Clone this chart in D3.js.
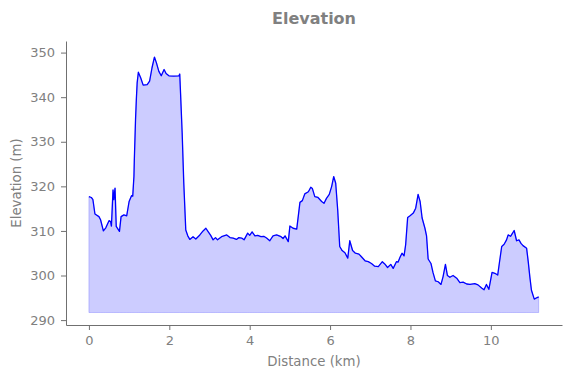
<!DOCTYPE html>
<html>
<head>
<meta charset="utf-8">
<script src="https://cdn.jsdelivr.net/npm/d3@7"></script>
<style>
  body { margin: 0; background: #fff; }
  svg { font-family: "DejaVu Sans", sans-serif; }
</style>
</head>
<body>
<svg id="canvas"></svg>
<script>
const distanceKm = [
  0.0, 0.06, 0.1, 0.15, 0.25, 0.29, 0.36, 0.42, 0.5, 0.54, 0.56, 0.6, 0.62,
  0.65, 0.68, 0.76, 0.8, 0.87, 0.94, 1.0, 1.06, 1.09, 1.12, 1.13, 1.16, 1.18,
  1.2, 1.23, 1.29, 1.35, 1.45, 1.51, 1.57, 1.63, 1.68, 1.74, 1.8, 1.87, 1.92,
  1.99, 2.11, 2.24, 2.26, 2.28, 2.32, 2.36, 2.41, 2.46, 2.51, 2.59, 2.66, 2.76,
  2.84, 2.91, 2.97, 3.03, 3.09, 3.15, 3.2, 3.3, 3.43, 3.51, 3.59, 3.67, 3.73,
  3.8, 3.86, 3.95, 4.0, 4.06, 4.13, 4.2, 4.28, 4.35, 4.42, 4.5, 4.58, 4.67,
  4.78, 4.83, 4.88, 4.96, 5.0, 5.08, 5.17, 5.25, 5.31, 5.37, 5.46, 5.52, 5.56,
  5.62, 5.7, 5.79, 5.85, 5.91, 5.98, 6.04, 6.09, 6.14, 6.19, 6.24, 6.3, 6.37,
  6.44, 6.49, 6.56, 6.63, 6.72, 6.78, 6.87, 6.95, 7.03, 7.11, 7.2, 7.3, 7.36,
  7.43, 7.51, 7.57, 7.65, 7.69, 7.74, 7.79, 7.84, 7.88, 7.93, 7.99, 8.07, 8.13,
  8.19, 8.24, 8.29, 8.36, 8.4, 8.44, 8.51, 8.56, 8.62, 8.69, 8.76, 8.81, 8.87,
  8.92, 8.98, 9.06, 9.15, 9.23, 9.31, 9.4, 9.48, 9.6, 9.68, 9.77, 9.83, 9.89,
  9.95, 10.03, 10.1, 10.17, 10.21, 10.27, 10.33, 10.39, 10.43, 10.49, 10.54,
  10.58, 10.64, 10.7, 10.75, 10.8, 10.89, 10.93, 10.97, 11.01, 11.08, 11.14,
  11.19,
];
const elevationM = [
  317.7, 317.5, 317.0, 313.8, 313.2, 312.5, 310.0, 310.7, 312.3, 312.1, 311.1,
  319.2, 317.0, 319.6, 311.0, 309.9, 313.2, 313.6, 313.4, 316.6, 317.9, 317.8,
  322.2, 326.0, 335.0, 339.5, 343.2, 345.6, 344.3, 342.7, 342.8, 343.6, 346.6,
  349.0, 347.7, 345.8, 344.8, 346.2, 345.3, 344.8, 344.7, 344.8, 345.2, 340.9,
  332.0, 320.8, 310.2, 308.9, 308.1, 308.7, 308.2, 309.1, 310.0, 310.6, 309.8,
  309.0, 308.0, 308.5, 308.0, 308.7, 309.1, 308.5, 308.4, 308.1, 308.5, 308.4,
  308.0, 309.5, 309.0, 309.8, 308.9, 309.0, 308.7, 308.8, 308.4, 307.8, 308.9,
  309.1, 308.7, 308.3, 308.9, 307.6, 311.1, 310.6, 310.4, 316.4, 316.8, 318.3,
  318.8, 319.8, 319.5, 317.7, 317.5, 316.6, 316.2, 317.3, 318.2, 320.0, 322.2,
  320.7, 314.7, 306.5, 305.6, 305.1, 303.9, 307.8, 305.6, 305.0, 304.8, 304.2,
  303.3, 303.1, 302.7, 302.1, 302.0, 303.1, 302.6, 301.8, 302.5, 301.6, 303.1,
  303.0, 304.1, 305.0, 304.4, 306.9, 313.0, 313.4, 314.0, 315.1, 318.2, 316.6,
  312.9, 310.6, 308.9, 303.7, 302.7, 300.7, 298.8, 298.6, 298.0, 299.7, 302.5,
  300.0, 299.6, 300.0, 299.4, 298.4, 298.5, 298.1, 298.0, 298.2, 297.9, 297.2,
  296.8, 298.0, 296.9, 300.7, 300.5, 300.1, 302.7, 306.5, 307.0, 308.0, 309.1,
  308.8, 309.5, 310.1, 307.8, 308.0, 307.2, 306.7, 306.1, 303.1, 299.7, 296.7,
  294.7, 295.0, 295.2,
];
const fillBase = 291.7;
const xTicks = [0, 2, 4, 6, 8, 10];
const yTicks = [290, 300, 310, 320, 330, 340, 350];

const canvasWidth = 571;
const canvasHeight = 378;
const margin = { top: 41, right: 9, bottom: 53, left: 66 };
const textGray = "#808080";

const canvas = d3
  .select("#canvas")
  .attr("width", canvasWidth)
  .attr("height", canvasHeight);

const points = distanceKm.map((d, i) => {
  return { dist: d, elev: elevationM[i] };
});

const xScale = d3
  .scaleLinear()
  .domain([-0.57, 11.77])
  .range([margin.left, canvasWidth - margin.right]);
const yScale = d3
  .scaleLinear()
  .domain([288.9, 352.6])
  .range([canvasHeight - margin.bottom, margin.top]);

// filled area under the profile
const area = d3
  .area()
  .x((p) => xScale(p.dist))
  .y0(yScale(fillBase))
  .y1((p) => yScale(p.elev));

canvas
  .append("path")
  .datum(points)
  .attr("d", area)
  .attr("fill", "rgba(0,0,255,0.2)")
  .attr("stroke", "rgba(0,0,255,0.2)")
  .attr("stroke-width", 1);

const line = d3
  .line()
  .x((p) => xScale(p.dist))
  .y((p) => yScale(p.elev));

canvas
  .append("path")
  .datum(points)
  .attr("d", line)
  .attr("fill", "none")
  .attr("stroke", "blue")
  .attr("stroke-width", 1.3)
  .attr("stroke-linejoin", "round");

// axes
const xAxis = canvas
  .append("g")
  .attr("transform", "translate(0," + (canvasHeight - margin.bottom) + ")")
  .call(d3.axisBottom(xScale).tickValues(xTicks).tickSize(5).tickPadding(6).tickSizeOuter(0));
const yAxis = canvas
  .append("g")
  .attr("transform", "translate(" + margin.left + ",0)")
  .call(d3.axisLeft(yScale).tickValues(yTicks).tickSize(5).tickPadding(6).tickSizeOuter(0));

[xAxis, yAxis].forEach((ax) => {
  ax.select(".domain").attr("stroke", "#707070").attr("stroke-width", 1);
  ax.selectAll(".tick line").attr("stroke", "#707070");
  ax.selectAll(".tick text")
    .attr("fill", textGray)
    .style("font-size", "13px")
    .style("font-family", "DejaVu Sans");
});

canvas
  .append("text")
  .text("Elevation")
  .attr("x", (margin.left + canvasWidth - margin.right) / 2)
  .attr("y", 24)
  .attr("text-anchor", "middle")
  .attr("fill", textGray)
  .style("font-size", "16px")
  .style("font-weight", "bold");

canvas
  .append("text")
  .text("Distance (km)")
  .attr("x", (margin.left + canvasWidth - margin.right) / 2)
  .attr("y", 366)
  .attr("text-anchor", "middle")
  .attr("fill", textGray)
  .style("font-size", "13.3px");

canvas
  .append("text")
  .text("Elevation (m)")
  .attr("transform", "translate(21," + (margin.top + canvasHeight - margin.bottom) / 2 + ") rotate(-90)")
  .attr("text-anchor", "middle")
  .attr("fill", textGray)
  .style("font-size", "13.3px");
</script>
</body>
</html>
